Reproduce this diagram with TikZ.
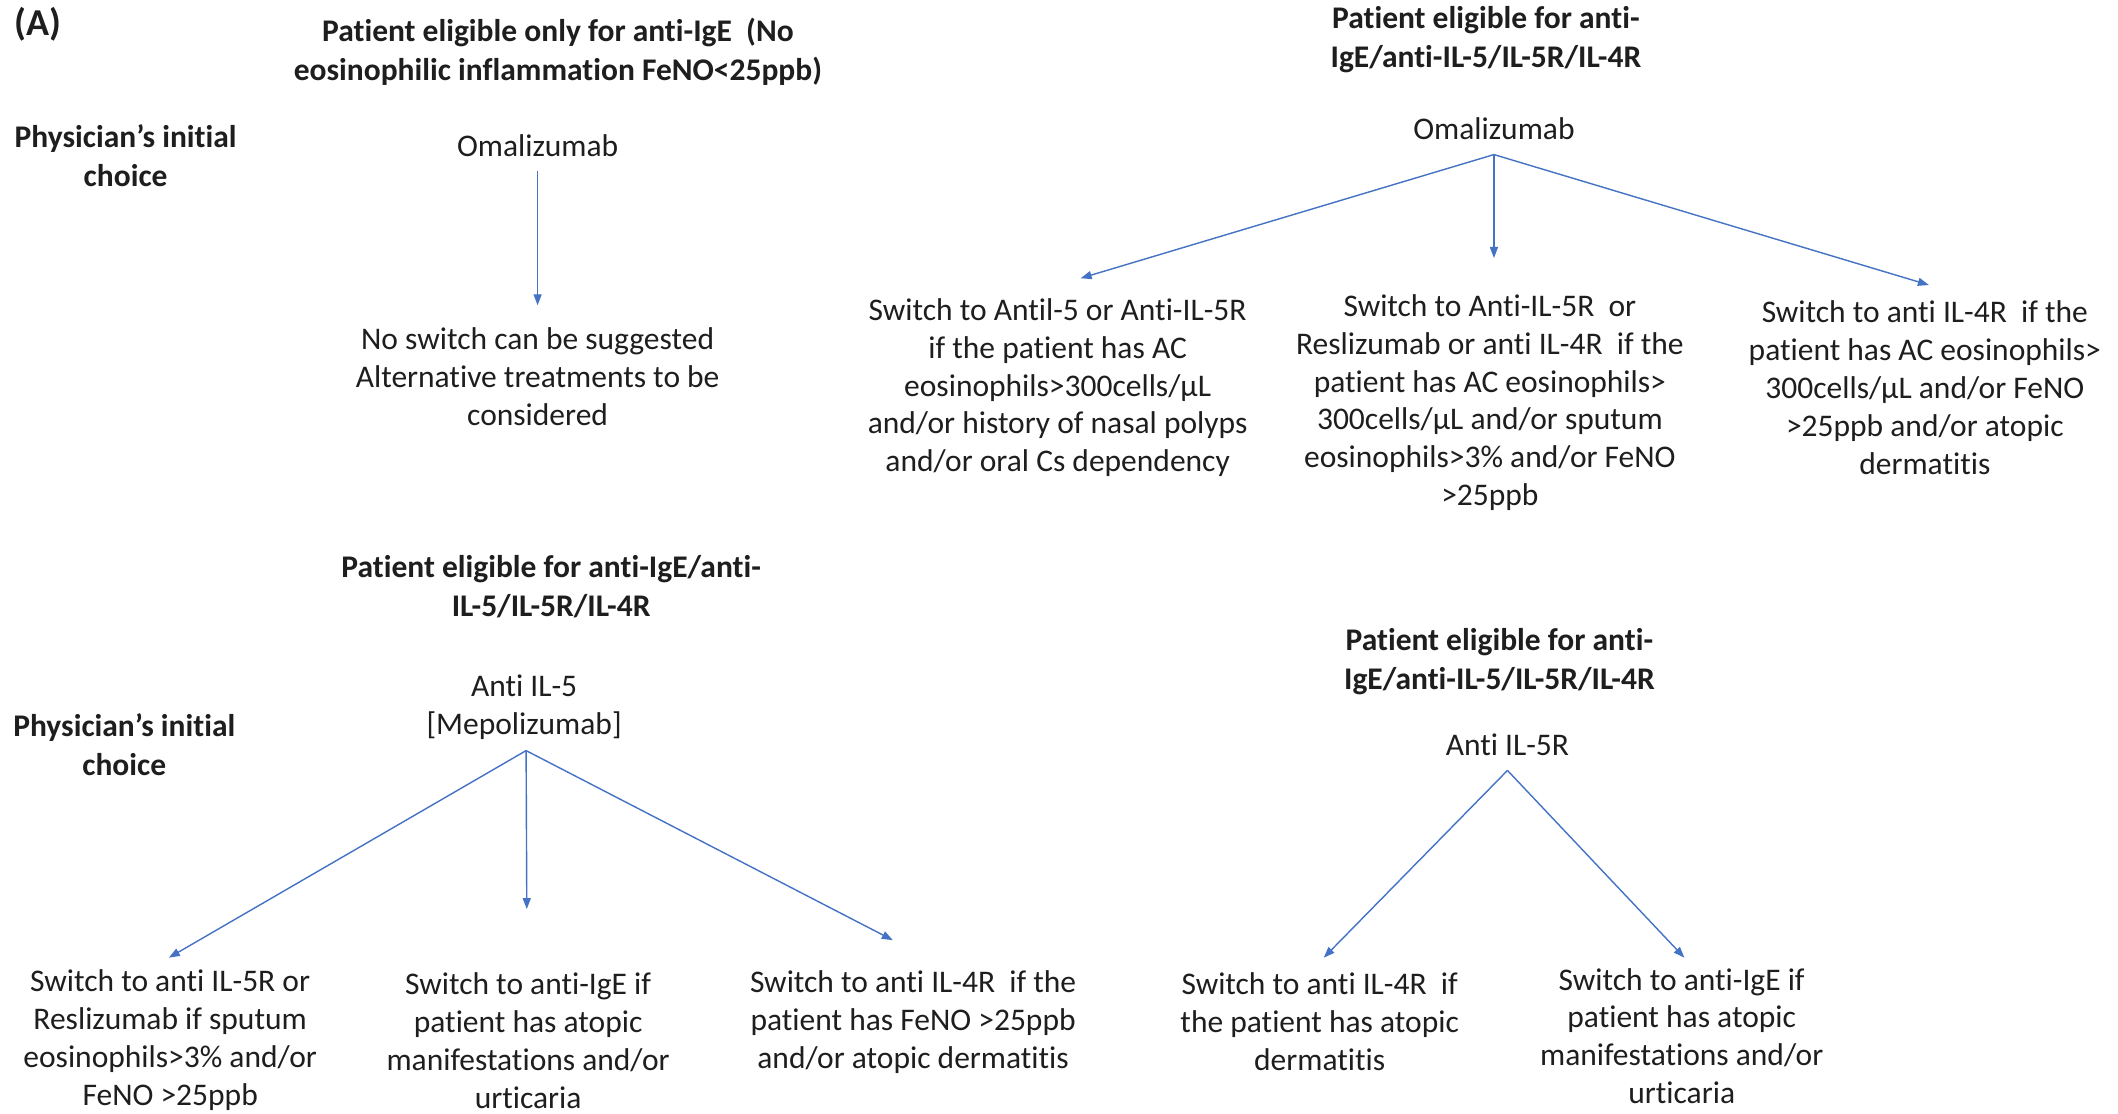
\documentclass[tikz,border=0pt]{standalone}
\usepackage{fontspec}
\setmainfont[RawFeature={-liga;-calt;-clig}]{Carlito}
\usetikzlibrary{arrows.meta}
\definecolor{arrblue}{RGB}{68,114,196}
\definecolor{txt}{RGB}{30,30,30}
\begin{document}
\begin{tikzpicture}[x=1.3508pt,y=-1.3508pt,
  body/.style={align=center, font=\fontsize{31.5}{37.8}\selectfont, text=txt, inner sep=0pt},
  head/.style={align=center, font=\fontsize{31.5}{39}\selectfont\bfseries, text=txt, inner sep=0pt},
  arr/.style={draw=arrblue, line width=1.4pt, -{Triangle[length=11pt,width=8pt]}}]
\fill[white] (0,0) rectangle (1568,824);
\useasboundingbox (0,0) rectangle (1568,824);

% panel label
\node[head, font=\fontsize{38}{40}\selectfont\bfseries] (lbl) at (28,18) {(A)};

% top-left tree
\node[head] (h1) at (413,38.5) {Patient eligible only for anti-IgE\ \ (No\\eosinophilic inflammation FeNO<25ppb)};
\node[head] (phys1) at (93,115) {Physician’s initial\\choice};
\node[body] (om1) at (398,108) {Omalizumab};
\node[body] (ns1) at (398,279) {No switch can be suggested\\Alternative treatments to be\\considered};
\coordinate (e1) at (398,226);
\draw[arr] ([yshift=-14pt]om1.south) -- (e1);

% top-right tree
\node[head] (h2) at (1100,29.5) {Patient eligible for anti-\\IgE/anti-IL-5/IL-5R/IL-4R};
\node[body] (om2) at (1106,95) {Omalizumab};
\node[body] (c2a) at (783,287) {Switch to Antil-5 or Anti-IL-5R\\if the patient has AC\\eosinophils>300cells/µL\\and/or history of nasal polyps\\and/or oral Cs dependency};
\node[body] (c2b) at (1103,298) {Switch to Anti-IL-5R\ \ or\\Reslizumab or anti IL-4R\ \ if the\\patient has AC eosinophils>\\300cells/µL and/or sputum\\eosinophils>3\% and/or FeNO\\>25ppb};
\node[body] (c2c) at (1425,287) {Switch to anti IL-4R\ \ if the\\patient has AC eosinophils>\\300cells/µL and/or FeNO\\>25ppb and/or atopic\\dermatitis};
\coordinate (e2a) at (800,206);
\coordinate (e2b) at (1106,191);
\coordinate (e2c) at (1428,211);
\draw[arr] ([yshift=-15pt]om2.south) -- (e2a);
\draw[arr] ([yshift=-15pt]om2.south) -- (e2b);
\draw[arr] ([yshift=-15pt]om2.south) -- (e2c);

% bottom-left tree
\node[head] (h3) at (408,434.5) {Patient eligible for anti-IgE/anti-\\IL-5/IL-5R/IL-4R};
\node[head] (phys2) at (92,551) {Physician’s initial\\choice};
\node[body] (m3) at (388,523.5) {Anti IL-5\\{}[Mepolizumab]};
\node[body] (c3a) at (126,770) {Switch to anti IL-5R or\\Reslizumab if sputum\\eosinophils>3\% and/or\\FeNO >25ppb};
\node[body] (c3b) at (391,770.5) {Switch to anti-IgE if\\patient has atopic\\manifestations and/or\\urticaria};
\node[body] (c3c) at (676,756.5) {Switch to anti IL-4R\ \ if the\\patient has FeNO >25ppb\\and/or atopic dermatitis};
\coordinate (e3a) at (125,709);
\coordinate (e3b) at (390,673);
\coordinate (e3c) at (661,696);
\draw[arr] ([xshift=2pt,yshift=-11pt]m3.south) -- (e3a);
\draw[arr] ([xshift=2pt,yshift=-11pt]m3.south) -- (e3b);
\draw[arr] ([xshift=2pt,yshift=-11pt]m3.south) -- (e3c);

% bottom-right tree
\node[head] (h4) at (1110,489.5) {Patient eligible for anti-\\IgE/anti-IL-5/IL-5R/IL-4R};
\node[body] (m4) at (1116,551) {Anti IL-5R};
\node[body] (c4a) at (977,756.5) {Switch to anti IL-4R\ \ if\\the patient has atopic\\dermatitis};
\node[body] (c4b) at (1245,767) {Switch to anti-IgE if\\patient has atopic\\manifestations and/or\\urticaria};
\coordinate (e4a) at (980,709);
\coordinate (e4b) at (1247,709);
\draw[arr] ([yshift=-15pt]m4.south) -- (e4a);
\draw[arr] ([yshift=-15pt]m4.south) -- (e4b);
\end{tikzpicture}
\end{document}
